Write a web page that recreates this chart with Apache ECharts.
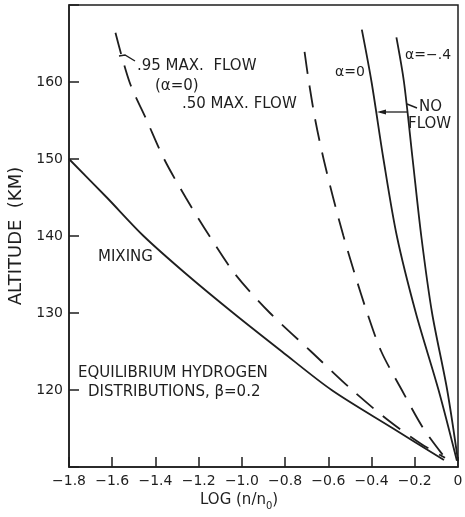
<!DOCTYPE html>
<html>
<head>
<meta charset="utf-8">
<script src="https://cdn.jsdelivr.net/npm/echarts@6/dist/echarts.min.js"></script>
<style>
html,body{margin:0;padding:0;background:#fff;}
#chart{width:465px;height:517px;}
</style>
</head>
<body>
<div id="chart"></div>
<script>
// ---- data ----
var xTicks = [-1.8, -1.6, -1.4, -1.2, -1.0, -0.8, -0.6, -0.4, -0.2, 0];
var xTickLabels = ['\u22121.8', '\u22121.6', '\u22121.4', '\u22121.2', '\u22121.0', '\u22120.8', '\u22120.6', '\u22120.4', '\u22120.2', '0'];
var yTicks = [120, 130, 140, 150, 160];
var yTickLabels = ['120', '130', '140', '150', '160'];

var mixingX = [-1.8, -1.625, -1.455, -1.255, -1.04, -0.815, -0.585, -0.30, -0.065];
var mixingY = [150, 145, 140, 135, 130, 125, 120, 115, 110.9];

var flow95X = [-1.585, -1.52, -1.44, -1.36, -1.26, -1.15, -1.03, -0.87, -0.68, -0.49, -0.32, -0.17, -0.06];
var flow95Y = [166.4, 160, 155, 150, 145, 140, 135, 130, 125, 120, 116, 113, 111.2];

var flow50X = [-0.71, -0.69, -0.66, -0.622, -0.578, -0.53, -0.477, -0.42, -0.355, -0.26, -0.16, -0.06];
var flow50Y = [163.9, 160, 155, 150, 145, 140, 135, 130, 125, 120, 115, 111.2];

var alpha0X = [-0.445, -0.40, -0.345, -0.283, -0.195, -0.09, -0.005];
var alpha0Y = [166.8, 160, 150, 140, 130, 120, 110.8];

var alphaM4X = [-0.285, -0.25, -0.21, -0.17, -0.12, -0.05, 0.0];
var alphaM4Y = [165.8, 160, 150, 140, 130, 120, 110.8];

function pairs(xs, ys) { return xs.map(function (x, i) { return [x, ys[i]]; }); }

var INK = '#1e1e1e';
var FONT = 'DejaVu Sans';

var chart = echarts.init(document.getElementById('chart'));

function lineSeries(name, xs, ys, dashed) {
  return {
    name: name, type: 'line', data: pairs(xs, ys), smooth: 0.3,
    showSymbol: false, symbol: 'none', silent: true,
    lineStyle: { color: INK, width: 1.8, type: dashed ? [22, 12] : 'solid' }
  };
}

function txt(x, y, s, size, align) {
  return { type: 'text', x: x, y: y, silent: true,
    style: { text: s, fill: INK, font: (size || 15) + 'px ' + FONT, textAlign: align || 'left', textVerticalAlign: 'middle' } };
}

var option = {
  animation: false,
  backgroundColor: '#fff',
  grid: { left: 69, right: 7, top: 5, bottom: 50, containLabel: false, outerBoundsMode: 'none',
    show: true, borderColor: INK, borderWidth: 1.5, backgroundColor: 'transparent' },
  xAxis: {
    type: 'value', min: -1.8, max: 0, interval: 0.2,
    axisLine: { show: true, onZero: false, lineStyle: { color: INK, width: 1.5 } },
    axisTick: { show: true, inside: true, length: 10, lineStyle: { color: INK, width: 1.5 } },
    splitLine: { show: false },
    axisLabel: {
      color: INK, fontFamily: FONT, fontSize: 14, margin: 7, hideOverlap: false,
      formatter: function (v) {
        for (var i = 0; i < xTicks.length; i++) if (Math.abs(xTicks[i] - v) < 1e-6) return xTickLabels[i];
        return '';
      }
    }
  },
  yAxis: {
    type: 'value', min: 110, max: 170, interval: 10, position: 'left',
    name: 'ALTITUDE  (KM)', nameLocation: 'middle', nameGap: 42, nameRotate: 90,
    nameTextStyle: { color: INK, fontFamily: FONT, fontSize: 18 },
    axisLine: { show: true, onZero: false, lineStyle: { color: INK, width: 1.5 } },
    axisTick: { show: true, inside: true, length: 10, lineStyle: { color: INK, width: 1.5 } },
    splitLine: { show: false },
    axisLabel: {
      color: INK, fontFamily: FONT, fontSize: 14, margin: 6,
      formatter: function (v) {
        for (var i = 0; i < yTicks.length; i++) if (Math.abs(yTicks[i] - v) < 1e-6) return yTickLabels[i];
        return '';
      }
    }
  },
  series: [
    lineSeries('MIXING', mixingX, mixingY, false),
    lineSeries('.95 MAX. FLOW', flow95X, flow95Y, true),
    lineSeries('.50 MAX. FLOW', flow50X, flow50Y, true),
    lineSeries('\u03b1=0', alpha0X, alpha0Y, false),
    lineSeries('\u03b1=-.4', alphaM4X, alphaM4Y, false)
  ],
  graphic: [
    txt(137, 66, '.95 MAX.  FLOW'),
    txt(155, 86, '(\u03b1=0)'),
    txt(182, 104, '.50 MAX. FLOW'),
    txt(335, 72, '\u03b1=0', 14),
    txt(405, 55, '\u03b1=\u2212.4', 14),
    txt(419, 107, 'NO'),
    txt(408, 124, 'FLOW'),
    txt(98, 257, 'MIXING'),
    txt(78, 373, 'EQUILIBRIUM HYDROGEN'),
    txt(88, 392, 'DISTRIBUTIONS, \u03b2=0.2'),
    {
      type: 'text', x: 200, y: 500, silent: true,
      style: { text: 'LOG (n/n{s|0})', fill: INK, font: '15px ' + FONT, textVerticalAlign: 'middle',
        rich: { s: { fontSize: 10, fontFamily: FONT, fill: INK, padding: [12, 0, 0, 0] } } }
    },
    // leader from .95 curve to its label
    { type: 'polyline', silent: true, shape: { points: [[119, 56], [125, 55], [135, 61]] },
      style: { stroke: INK, lineWidth: 1.4, fill: null } },
    // "NO FLOW" hook to alpha=-.4 line and arrow to alpha=0 line
    { type: 'polyline', silent: true, shape: { points: [[407, 104], [417, 108]] },
      style: { stroke: INK, lineWidth: 1.4, fill: null } },
    { type: 'line', silent: true, shape: { x1: 407, y1: 112, x2: 380, y2: 112 },
      style: { stroke: INK, lineWidth: 1.3 } },
    { type: 'polygon', silent: true, shape: { points: [[377, 112], [386, 109.5], [386, 114.5]] },
      style: { fill: INK } }
  ]
};
chart.setOption(option);
</script>
</body>
</html>
